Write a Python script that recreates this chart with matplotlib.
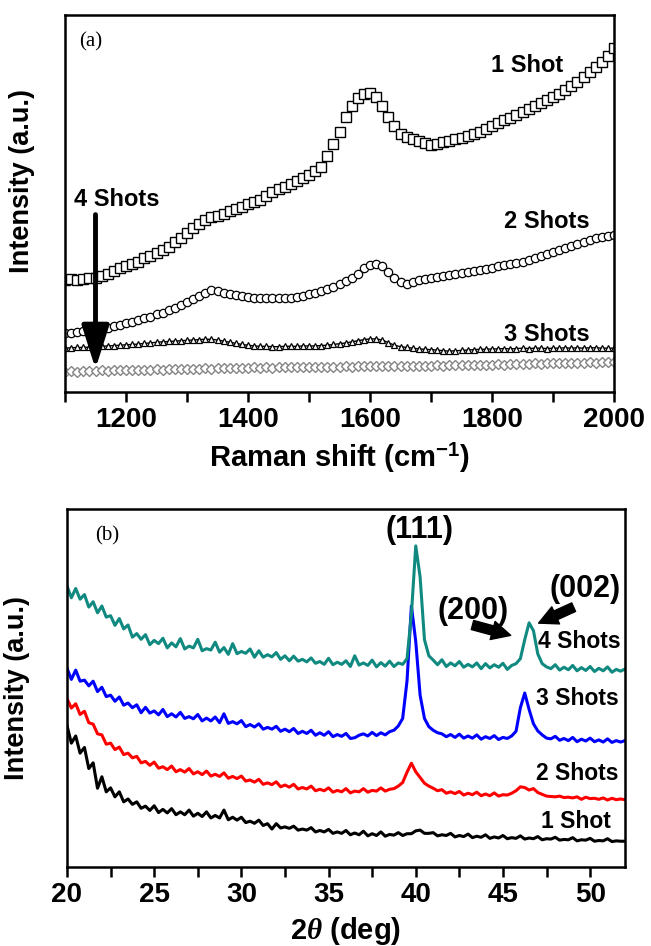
"""Raman spectra (a) and XRD patterns (b) for 1-4 laser shots."""
import numpy as np
import matplotlib
matplotlib.use('Agg')
import matplotlib.pyplot as plt
from matplotlib.ticker import MultipleLocator

plt.rcParams['font.family'] = ['Liberation Sans', 'DejaVu Sans']
plt.rcParams['font.weight'] = 'bold'
plt.rcParams['mathtext.fontset'] = 'custom'
plt.rcParams['mathtext.rm'] = 'Liberation Sans:bold'
plt.rcParams['mathtext.it'] = 'Liberation Serif:italic'

# ---- (a) Raman data, intensity in % of the panel height ----
raman_shift = np.arange(1100, 2001, 10)
raman_1shot = [28.7, 28.8, 28.7, 29.0, 29.1, 29.1, 29.6, 30.3, 31.0, 31.8,
               32.5, 33.0, 33.6, 34.5, 35.2, 35.8, 36.6, 37.6, 38.8, 40.0,
               41.3, 42.6, 43.8, 44.7, 45.5, 46.0, 46.5, 47.2, 47.8, 48.4,
               49.0, 49.6, 50.3, 51.3, 52.3, 53.1, 53.8, 54.6, 55.4, 56.2,
               57.0, 58.0, 59.2, 62.0, 65.3, 68.6, 72.5, 75.5, 77.6, 78.6,
               79.0, 78.0, 75.6, 72.6, 70.2, 68.0, 67.2, 66.6, 66.0, 65.5,
               65.0, 65.3, 65.8, 66.2, 66.6, 67.0, 67.5, 68.0, 68.6, 69.3,
               70.0, 70.8, 71.6, 72.3, 73.1, 73.9, 74.7, 75.5, 76.3, 77.2,
               78.0, 78.8, 79.8, 80.9, 82.0, 83.2, 84.6, 85.9, 87.4, 89.0,
               91.0]
raman_2shots = [14.3, 14.5, 14.6, 14.8, 15.0, 15.2, 15.5, 15.8, 16.2, 16.6,
                17.0, 17.3, 17.8, 18.3, 18.8, 19.4, 19.9, 20.5, 21.2, 22.0,
                22.8, 23.6, 24.4, 25.2, 25.9, 25.8, 25.2, 24.8, 24.5, 24.3,
                24.1, 23.9, 23.8, 23.7, 23.7, 23.8, 23.8, 23.9, 24.1, 24.4,
                24.8, 25.2, 25.6, 26.1, 26.8, 27.5, 28.3, 29.2, 30.4, 31.8,
                32.6, 32.9, 32.4, 30.8, 29.2, 28.0, 27.5, 28.0, 28.6, 29.0,
                29.2, 29.4, 29.7, 30.0, 30.2, 30.5, 30.8, 31.1, 31.4, 31.7,
                32.0, 32.3, 32.6, 33.0, 33.3, 33.6, 34.1, 34.6, 35.1, 35.6,
                36.1, 36.6, 37.2, 37.8, 38.4, 39.0, 39.4, 39.9, 40.3, 40.6,
                40.8]
raman_3shots = [10.3, 10.4, 10.5, 10.5, 10.6, 10.7, 10.8, 10.9, 11.0, 11.1,
                11.2, 11.3, 11.4, 11.6, 11.7, 11.9, 12.0, 12.1, 12.2, 12.3,
                12.4, 12.5, 12.6, 12.7, 12.7, 12.5, 12.2, 11.9, 11.6, 11.3,
                11.1, 10.9, 10.8, 10.8, 10.7, 10.7, 10.8, 10.8, 10.8, 10.9,
                10.9, 10.9, 11.0, 11.1, 11.3, 11.5, 11.7, 12.0, 12.3, 12.6,
                12.8, 12.8, 12.5, 11.8, 11.1, 10.7, 10.5, 10.3, 10.1, 10.0,
                9.9, 9.8, 9.6, 9.5, 9.6, 9.7, 9.8, 9.9, 10.0, 10.0,
                10.1, 10.1, 10.2, 10.1, 10.2, 10.3, 10.2, 10.3, 10.3, 10.2,
                10.3, 10.3, 10.4, 10.3, 10.4, 10.3, 10.4, 10.4, 10.3, 10.3,
                10.3]
raman_4shots = [4.0, 4.1, 4.0, 4.2, 4.1, 4.2, 4.3, 4.2, 4.3, 4.4,
                4.3, 4.4, 4.5, 4.4, 4.5, 4.6, 4.5, 4.6, 4.7, 4.6,
                4.7, 4.8, 4.7, 4.9, 4.8, 4.9, 5.0, 4.9, 5.0, 4.9,
                5.0, 5.1, 5.0, 5.1, 5.0, 5.2, 5.1, 5.2, 5.1, 5.2,
                5.2, 5.3, 5.2, 5.3, 5.2, 5.3, 5.4, 5.3, 5.4, 5.5,
                5.5, 5.4, 5.5, 5.4, 5.5, 5.6, 5.5, 5.6, 5.5, 5.6,
                5.6, 5.7, 5.6, 5.7, 5.8, 5.7, 5.8, 5.9, 5.8, 5.9,
                5.9, 6.0, 5.9, 6.0, 6.1, 6.0, 6.1, 6.2, 6.1, 6.2,
                6.2, 6.3, 6.2, 6.3, 6.4, 6.3, 6.5, 6.4, 6.6, 6.5,
                6.7]

# ---- (b) XRD data, 2theta every 0.25 deg, intensity in % of panel height ----
two_theta = np.arange(20, 52.01, 0.25)
xrd_4shots = [78.5, 75.2, 77.8, 74.8, 76.1, 72.6, 74.1, 71.0,
              72.9, 69.8, 70.2, 67.5, 69.4, 66.5, 67.6, 64.2,
              65.2, 63.6, 64.9, 62.1, 63.3, 62.4, 63.9, 61.2,
              62.6, 61.5, 63.8, 60.9, 61.7, 61.2, 63.6, 60.4,
              61.0, 60.6, 62.8, 60.0, 61.3, 59.4, 62.4, 59.6,
              60.2, 59.7, 60.9, 58.6, 60.4, 58.6, 59.3, 58.7,
              59.9, 58.0, 59.0, 57.6, 58.9, 57.5, 58.0, 57.3,
              58.4, 56.9, 57.4, 56.6, 58.3, 56.5, 57.2, 56.6,
              57.6, 56.0, 59.0, 56.4, 57.0, 56.3, 57.8, 55.9,
              57.1, 56.1, 57.5, 56.0, 57.0, 56.6, 58.2, 70.5,
              89.7, 81.0, 63.5, 59.0, 57.8, 56.5, 57.9, 56.0,
              57.0, 56.2, 57.4, 55.8, 56.6, 55.9, 57.0, 55.4,
              56.8, 55.6, 56.5, 55.8, 56.9, 55.2, 56.3, 56.8,
              58.2, 63.5, 68.2, 66.0, 59.5, 56.8, 55.9, 55.4,
              56.5, 55.0, 55.8, 55.1, 56.3, 54.8, 55.7, 54.9,
              56.0, 54.6, 55.5, 54.8, 55.9, 54.4, 55.2, 54.7,
              55.3]
xrd_3shots = [55.5, 52.4, 55.0, 51.9, 52.2, 50.6, 51.9, 49.0,
              50.2, 47.6, 48.0, 46.3, 47.5, 45.2, 45.8, 44.5,
              45.3, 43.1, 44.6, 43.0, 43.6, 42.5, 44.0, 42.0,
              42.8, 41.9, 43.2, 41.5, 42.0, 41.4, 42.6, 40.8,
              41.6, 40.8, 41.9, 40.3, 42.8, 40.1, 40.6, 40.0,
              40.9, 39.2, 39.8, 39.1, 40.0, 38.5, 39.0, 38.5,
              39.3, 37.9, 38.5, 37.8, 38.7, 37.3, 37.9, 37.3,
              38.2, 36.8, 37.5, 36.8, 37.8, 36.4, 37.0, 36.5,
              37.3, 35.9, 36.1, 36.8, 37.2, 36.6, 37.6, 36.7,
              37.5, 36.9, 37.8, 38.2, 39.4, 41.5, 52.0, 72.9,
              63.0, 48.0, 41.5, 39.2, 38.2, 37.5, 37.2, 36.4,
              37.0, 36.2, 37.1, 36.0, 36.6, 36.0, 36.9, 35.7,
              36.4, 35.9, 36.7, 35.6, 36.2, 35.9, 36.6, 37.9,
              44.5, 48.6, 44.0, 40.0, 38.0, 36.9, 36.0, 35.8,
              36.5, 35.4, 35.9, 35.3, 36.2, 35.0, 35.7, 35.2,
              36.0, 35.0, 35.5, 34.9, 35.8, 34.8, 35.3, 34.9,
              35.3]
xrd_2shots = [47.0, 44.4, 45.6, 42.6, 43.5, 40.3, 39.9, 37.2,
              36.9, 34.3, 34.6, 32.8, 33.5, 31.4, 31.8, 30.5,
              30.9, 29.1, 29.5, 28.4, 29.3, 27.6, 28.0, 27.2,
              28.2, 26.6, 27.2, 26.5, 27.5, 26.0, 26.6, 25.8,
              26.8, 25.4, 25.9, 25.3, 26.3, 24.8, 25.3, 24.7,
              25.4, 24.0, 24.3, 23.7, 24.5, 23.1, 23.5, 23.0,
              23.8, 22.4, 22.9, 22.3, 23.1, 21.8, 22.2, 21.8,
              22.6, 21.3, 21.7, 21.3, 22.1, 20.9, 21.4, 21.0,
              21.9, 20.7, 21.2, 21.0, 21.9, 20.9, 21.4, 21.2,
              22.1, 21.2, 21.7, 21.9, 22.6, 23.6, 26.5, 29.0,
              26.6, 25.0, 23.4, 22.6, 22.0, 21.3, 21.6, 20.6,
              21.0, 20.5, 21.1, 20.1, 20.6, 20.2, 20.9, 19.9,
              20.4, 19.9, 20.7, 19.8, 20.2, 20.1, 20.6, 21.3,
              22.4, 22.2, 21.5, 21.9, 20.8, 20.3, 19.8, 19.7,
              19.6, 19.8, 19.4, 19.5, 19.3, 19.6, 18.9, 19.5,
              19.1, 19.2, 18.9, 19.3, 18.7, 19.2, 18.8, 19.0,
              18.8]
xrd_1shot = [39.5, 34.6, 36.6, 31.8, 33.4, 27.5, 29.1, 22.0,
             25.2, 21.0, 22.1, 19.6, 21.0, 18.2, 19.0, 17.5,
             18.2, 16.4, 17.0, 15.8, 17.1, 15.2, 16.1, 15.1,
             16.3, 14.6, 15.4, 14.6, 15.9, 14.2, 15.0, 14.1,
             15.4, 13.7, 14.4, 13.7, 15.9, 13.2, 13.9, 13.1,
             13.9, 12.4, 12.8, 12.2, 13.1, 11.6, 12.1, 10.6,
             12.1, 10.9, 11.2, 10.8, 11.4, 10.3, 10.6, 10.3,
             11.0, 9.8, 10.2, 9.8, 10.5, 9.4, 9.8, 9.4,
             10.2, 9.0, 9.5, 9.0, 10.0, 8.7, 9.3, 8.8,
             9.8, 8.6, 9.1, 8.9, 9.6, 8.8, 9.3, 9.3,
             10.1, 10.3, 9.4, 9.4, 9.6, 8.7, 9.0, 8.8,
             9.4, 8.4, 8.8, 8.5, 9.2, 8.2, 8.6, 8.3,
             9.0, 8.0, 8.4, 8.1, 8.8, 7.9, 8.2, 8.0,
             8.7, 7.8, 8.1, 7.9, 8.5, 7.6, 7.9, 7.8,
             8.3, 7.5, 7.7, 7.6, 8.2, 7.3, 7.6, 7.5,
             8.0, 7.2, 7.4, 7.3, 7.9, 7.1, 7.3, 7.2,
             7.2]
xrd_colors = ['black', 'red', 'blue', '#108a80']


def styleAxes(ax):
    """Thick box, outward ticks on the bottom only, no y ticks."""
    for spine in ax.spines.values():
        spine.set_linewidth(1.8)
    ax.tick_params(axis='x', which='both', direction='out', length=7, width=1.8,
                   pad=4, labelsize=20, top=False)
    ax.set_yticks([])


fig = plt.figure(figsize=(6.51, 9.46), dpi=100)

# ---------- panel (a) ----------
ax1 = fig.add_axes([65 / 651, 1 - 392 / 946, 549 / 651, 377 / 946])
ax1.plot(raman_shift, raman_4shots, linestyle='none', marker='D', ms=5,
         mfc='white', mec='#858585', mew=1)
ax1.plot(raman_shift, raman_3shots, color='black', lw=1, marker='^', ms=5,
         mfc='white', mec='black', mew=0.9)
ax1.plot(raman_shift, raman_2shots, linestyle='none', marker='o', ms=6,
         mfc='white', mec='black', mew=0.9)
ax1.plot(raman_shift, raman_1shot, linestyle='none', marker='s', ms=7,
         mfc='white', mec='black', mew=1)
ax1.set_xlim(1100, 2000)
ax1.set_ylim(-1.5, 100)
ax1.xaxis.set_major_locator(MultipleLocator(200))
ax1.xaxis.set_minor_locator(MultipleLocator(100))
styleAxes(ax1)
ax1.set_xticks([1200, 1400, 1600, 1800, 2000])
ax1.set_xlabel(r'Raman shift (cm$^{-1}$)', fontsize=21, fontweight='bold', labelpad=6)
ax1.set_ylabel('Intensity (a.u.)', fontsize=19.5, fontweight='bold')
ax1.yaxis.set_label_coords(-0.055, 0.56)

ax1.text(0.025, 0.93, '(a)', transform=ax1.transAxes, fontsize=15,
         family='Liberation Serif', fontweight='normal', va='center')
ax1.text(0.776, 0.865, '1 Shot', transform=ax1.transAxes, fontsize=17, va='center')
ax1.text(0.80, 0.453, '2 Shots', transform=ax1.transAxes, fontsize=17, va='center')
ax1.text(0.80, 0.152, '3 Shots', transform=ax1.transAxes, fontsize=17, va='center')
ax1.text(0.016, 0.511, '4 Shots', transform=ax1.transAxes, fontsize=17, va='center')
ax1.annotate('', xy=(1150, 4.0), xytext=(1150, 47),
             arrowprops=dict(arrowstyle='-|>,head_length=2.2,head_width=0.7',
                             lw=3.5, color='black', mutation_scale=12))

# ---------- panel (b) ----------
ax2 = fig.add_axes([67 / 651, 1 - 867 / 946, 558 / 651, 358 / 946])
for series, color in zip([xrd_1shot, xrd_2shots, xrd_3shots, xrd_4shots], xrd_colors):
    ax2.plot(two_theta, series, color=color, lw=2.2)
ax2.set_xlim(20, 52)
ax2.set_ylim(0, 100)
ax2.xaxis.set_major_locator(MultipleLocator(5))
ax2.xaxis.set_minor_locator(MultipleLocator(2.5))
styleAxes(ax2)
ax2.set_xlabel(r'2$\theta$ (deg)', fontsize=21, fontweight='bold', labelpad=5)
ax2.set_ylabel('Intensity (a.u.)', fontsize=19.5, fontweight='bold')
ax2.yaxis.set_label_coords(-0.066, 0.5)

ax2.text(0.05, 0.925, '(b)', transform=ax2.transAxes, fontsize=15,
         family='Liberation Serif', fontweight='normal', va='center')
ax2.text(40.2, 94, '(111)', fontsize=22, ha='center', va='center')
ax2.text(43.3, 71.5, '(200)', fontsize=22, ha='center', va='center')
ax2.text(49.7, 77.6, '(002)', fontsize=22, ha='center', va='center')
ax2.annotate('', xy=(45.6, 64.5), xytext=(43.1, 67.8),
             arrowprops=dict(arrowstyle='simple,head_length=0.9,head_width=0.9,tail_width=0.45',
                             fc='black', ec='black', mutation_scale=15))
ax2.annotate('', xy=(46.9, 67.8), xytext=(49.2, 72.9),
             arrowprops=dict(arrowstyle='simple,head_length=0.9,head_width=0.9,tail_width=0.45',
                             fc='black', ec='black', mutation_scale=15))
ax2.text(47.0, 63.1, '4 Shots', fontsize=16.5, va='center')
ax2.text(46.9, 47.2, '3 Shots', fontsize=16.5, va='center')
ax2.text(46.9, 26.2, '2 Shots', fontsize=16.5, va='center')
ax2.text(47.2, 12.6, '1 Shot', fontsize=16.5, va='center')

fig.savefig('out.png', dpi=100)
